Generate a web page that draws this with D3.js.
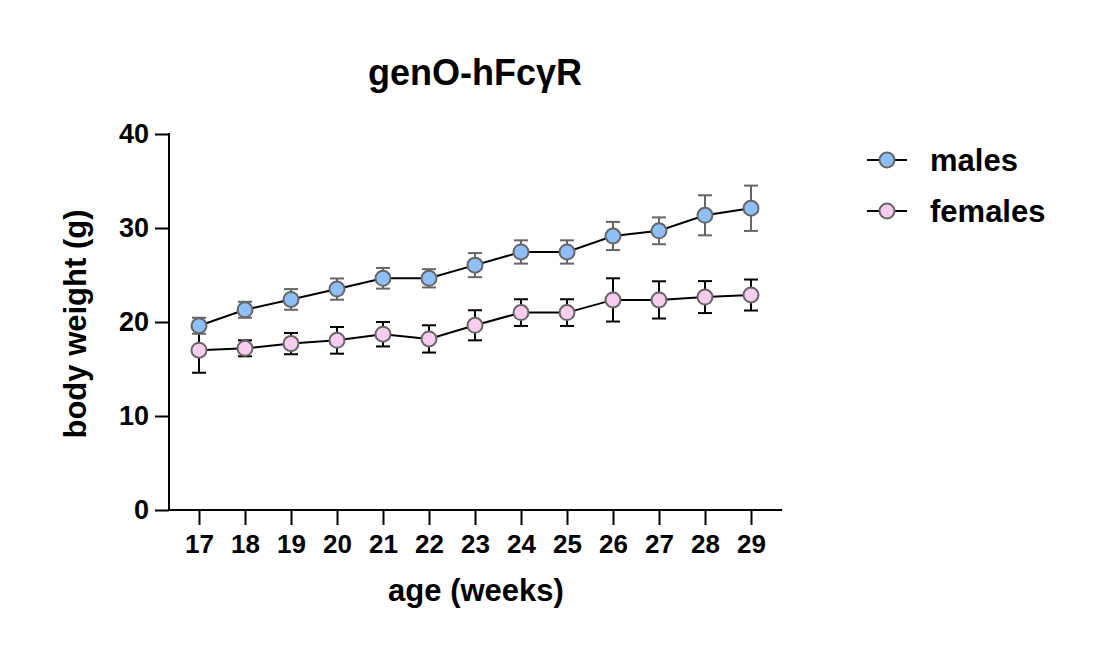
<!DOCTYPE html>
<html><head><meta charset="utf-8">
<script src="https://cdn.jsdelivr.net/npm/d3@7/dist/d3.min.js"></script>
<style>body{margin:0;background:#fff}svg{display:block;font-family:Arial,"Liberation Sans",sans-serif;font-weight:bold}</style>
</head><body><svg id="c" width="1117" height="665"></svg>
<script>
const weeks = [17,18,19,20,21,22,23,24,25,26,27,28,29];
const malesMean = [19.6,21.3,22.4,23.5,24.65,24.65,26.05,27.45,27.45,29.15,29.7,31.35,32.1];
const malesErr  = [0.85,0.85,1.1,1.13,1.1,0.97,1.28,1.24,1.24,1.5,1.43,2.13,2.41];
const femalesMean = [17.0,17.2,17.7,18.05,18.7,18.2,19.65,21.0,21.0,22.35,22.35,22.65,22.87];
const femalesErr  = [2.4,0.85,1.13,1.42,1.3,1.45,1.6,1.42,1.42,2.3,1.98,1.7,1.65];
const yTicks = [0,10,20,30,40];
const seriesNames = ["males","females"];

const FONT = "Arial, 'Liberation Sans', sans-serif";
const svg = d3.select("#c");
const x = d3.scaleLinear().domain([17,29]).range([199,751]);
const y = d3.scaleLinear().domain([0,40]).range([510,134]);

// axes
svg.append("line").attr("x1",169).attr("x2",169).attr("y1",133).attr("y2",511).attr("stroke","#000").attr("stroke-width",2);
svg.append("line").attr("x1",168).attr("x2",782).attr("y1",510).attr("y2",510).attr("stroke","#000").attr("stroke-width",2);
const yAxis = d3.axisLeft(y).tickValues(yTicks).tickSize(14).tickPadding(6);
const gy = svg.append("g").attr("transform","translate(169,0)").call(yAxis);
gy.select(".domain").remove();
gy.selectAll("line").attr("stroke","#000").attr("stroke-width",2);
gy.selectAll("text").attr("font-size",27).attr("font-weight","bold").attr("fill","#000").attr("font-family",FONT);
const xAxis = d3.axisBottom(x).tickValues(weeks).tickFormat(d3.format("d")).tickSize(14).tickPadding(10);
const gx = svg.append("g").attr("transform","translate(0,511)").call(xAxis);
gx.select(".domain").remove();
gx.selectAll("line").attr("stroke","#000").attr("stroke-width",2);
gx.selectAll("text").attr("font-size",26).attr("font-weight","bold").attr("fill","#000").attr("font-family",FONT);

// labels
svg.append("text").attr("x",475).attr("y",85).attr("text-anchor","middle").attr("font-size",36).text("genO-hFcγR");
svg.append("text").attr("x",476).attr("y",601).attr("text-anchor","middle").attr("font-size",31).text("age (weeks)");
svg.append("text").attr("transform","translate(86,324) rotate(-90)").attr("text-anchor","middle").attr("font-size",31).text("body weight (g)");

const series = [
  {name:seriesNames[0], mean:malesMean, err:malesErr, fill:"#8FBFF8", errColor:"#666666"},
  {name:seriesNames[1], mean:femalesMean, err:femalesErr, fill:"#F8CCEC", errColor:"#000000"}
];
const line = d3.line().x((d,i)=>x(weeks[i])).y(d=>y(d));
series.slice().reverse().forEach(s=>{
  const g = svg.append("g");
  g.selectAll("line.eb").data(s.mean).enter().append("line").attr("class","eb")
    .attr("x1",(d,i)=>x(weeks[i])).attr("x2",(d,i)=>x(weeks[i]))
    .attr("y1",(d,i)=>y(d+s.err[i])).attr("y2",(d,i)=>y(d-s.err[i]))
    .attr("stroke",s.errColor).attr("stroke-width",2);
  [1,-1].forEach((sign,k)=>{
    g.selectAll("line.cap"+k).data(s.mean).enter().append("line").attr("class","cap"+k)
      .attr("x1",(d,i)=>x(weeks[i])-7).attr("x2",(d,i)=>x(weeks[i])+7)
      .attr("y1",(d,i)=>y(d+sign*s.err[i]))
      .attr("y2",(d,i)=>y(d+sign*s.err[i]))
      .attr("stroke",s.errColor).attr("stroke-width",2);
  });
  g.append("path").datum(s.mean).attr("d",line).attr("fill","none").attr("stroke","#000").attr("stroke-width",2);
  g.selectAll("circle").data(s.mean).enter().append("circle")
    .attr("cx",(d,i)=>x(weeks[i])).attr("cy",d=>y(d)).attr("r",7.5)
    .attr("fill",s.fill).attr("stroke","#666").attr("stroke-width",2);
});

// legend
series.forEach((s,k)=>{
  const ly = 160 + k*51;
  svg.append("line").attr("x1",867).attr("x2",907).attr("y1",ly).attr("y2",ly).attr("stroke","#000").attr("stroke-width",2);
  svg.append("circle").attr("cx",887).attr("cy",ly).attr("r",7.5).attr("fill",s.fill).attr("stroke","#666").attr("stroke-width",2);
  svg.append("text").attr("x",930).attr("y",ly+11).attr("font-size",31).text(s.name);
});
</script></body></html>
